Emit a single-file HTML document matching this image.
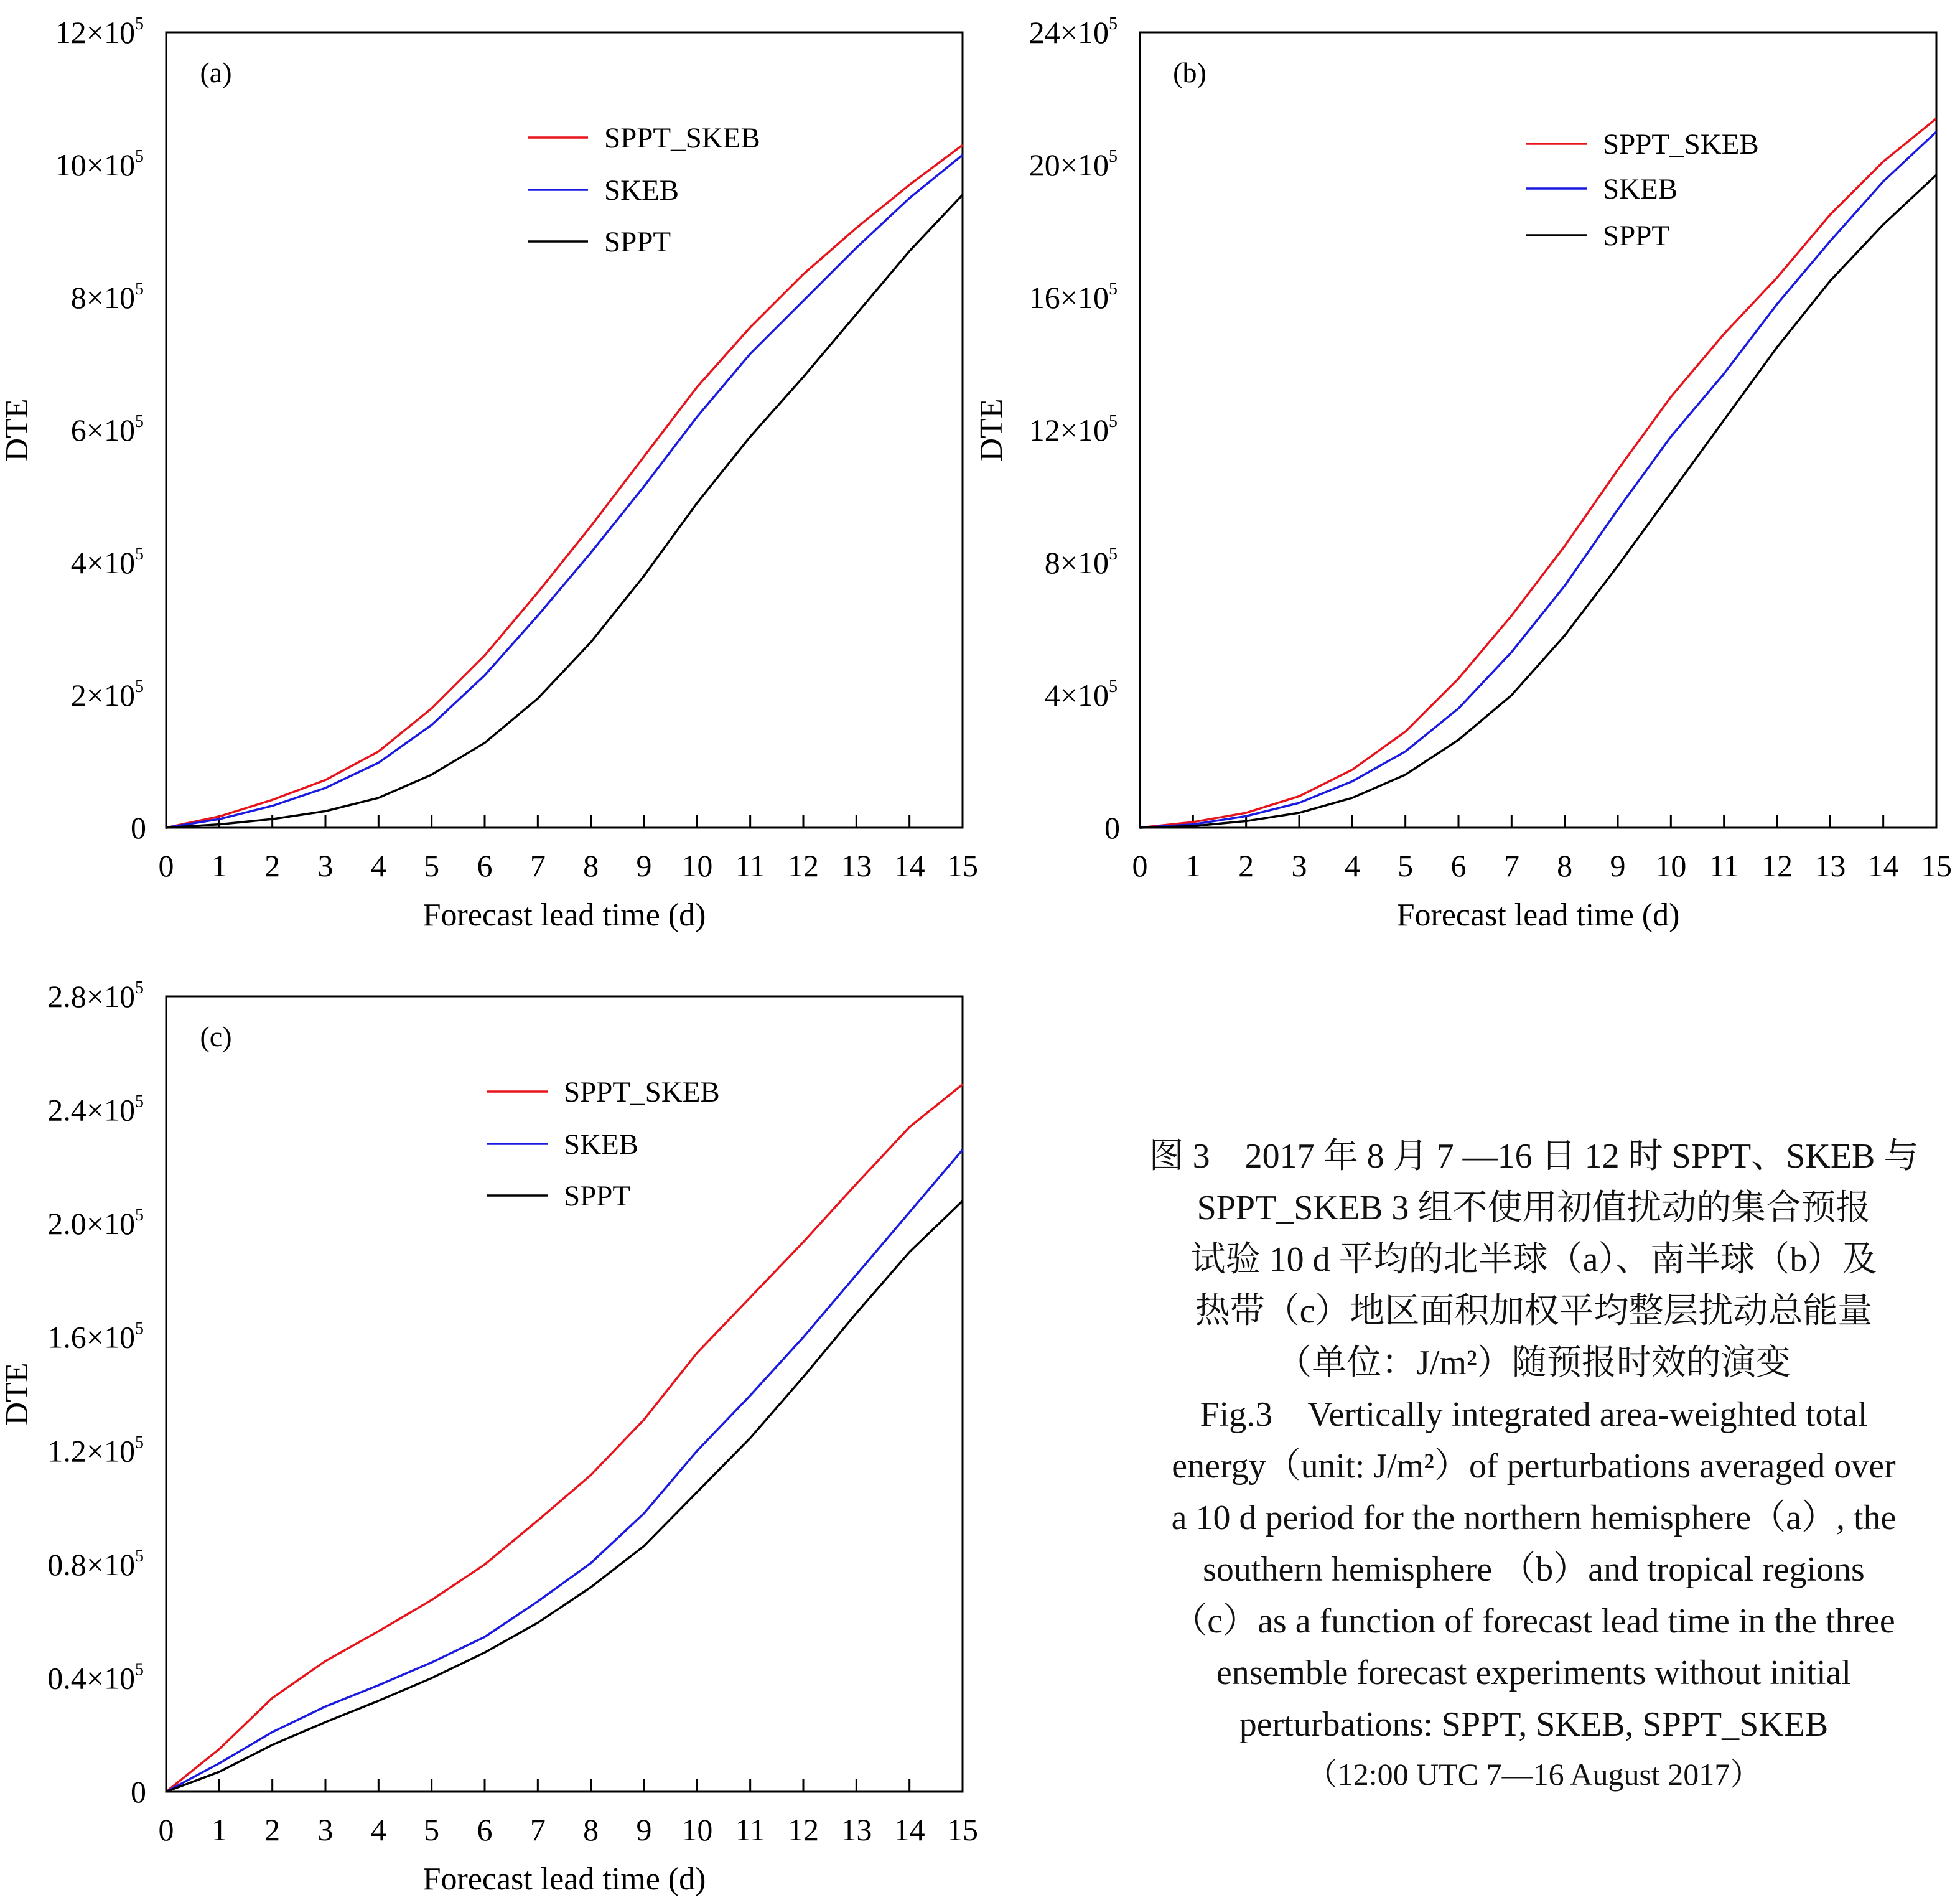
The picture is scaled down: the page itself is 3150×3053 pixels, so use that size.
<!DOCTYPE html>
<html><head><meta charset="utf-8"><style>
body{margin:0;background:#fff}
svg{display:block;font-family:"Liberation Serif","Noto Serif CJK SC",serif}
</style></head><body>
<svg id="fig" width="3150" height="3053" viewBox="0 0 3150 3053" xmlns="http://www.w3.org/2000/svg">
<rect width="3150" height="3053" fill="#fff"/>
<g id="caption" font-size="56" text-anchor="middle" fill="#111">
<text x="2465" y="1876">图 3　2017 年 8 月 7 —16 日 12 时 SPPT、SKEB 与</text>
<text x="2465" y="1959">SPPT_SKEB 3 组不使用初值扰动的集合预报</text>
<text x="2465" y="2042">试验 10 d 平均的北半球（a）、南半球（b）及</text>
<text x="2465" y="2125">热带（c）地区面积加权平均整层扰动总能量</text>
<text x="2465" y="2208">（单位：J/m²）随预报时效的演变</text>
<text x="2465" y="2291">Fig.3　Vertically integrated area-weighted total</text>
<text x="2465" y="2374">energy（unit: J/m²）of perturbations averaged over</text>
<text x="2465" y="2457">a 10 d period for the northern hemisphere（a）, the</text>
<text x="2465" y="2540">southern hemisphere （b）and tropical regions</text>
<text x="2465" y="2623">（c）as a function of forecast lead time in the three</text>
<text x="2465" y="2706">ensemble forecast experiments without initial</text>
<text x="2465" y="2789">perturbations: SPPT, SKEB, SPPT_SKEB</text>
<text x="2465" y="2868" font-size="50">（12:00 UTC 7—16 August 2017）</text>
</g>
</svg>
<script>
const days=[0,1,2,3,4,5,6,7,8,9,10,11,12,13,14,15];
const aSpptSkeb=[0,0.17,0.42,0.72,1.15,1.8,2.6,3.55,4.55,5.6,6.65,7.55,8.35,9.05,9.7,10.3];
const aSkeb=[0,0.13,0.33,0.6,0.98,1.55,2.3,3.2,4.15,5.15,6.2,7.15,7.95,8.75,9.5,10.15];
const aSppt=[0,0.05,0.13,0.25,0.45,0.8,1.28,1.95,2.8,3.8,4.9,5.9,6.8,7.75,8.7,9.55];
const bSpptSkeb=[0,0.17,0.45,0.95,1.75,2.9,4.5,6.4,8.5,10.8,13.0,14.9,16.6,18.5,20.1,21.4];
const bSkeb=[0,0.1,0.35,0.75,1.4,2.3,3.6,5.3,7.3,9.6,11.8,13.7,15.8,17.7,19.5,21.0];
const bSppt=[0,0.05,0.2,0.45,0.9,1.6,2.65,4.0,5.8,7.9,10.1,12.3,14.5,16.5,18.2,19.7];
const cSpptSkeb=[0,0.15,0.33,0.46,0.565,0.675,0.8,0.955,1.115,1.31,1.545,1.74,1.935,2.14,2.34,2.49];
const cSkeb=[0,0.1,0.21,0.3,0.375,0.455,0.545,0.67,0.805,0.98,1.2,1.395,1.6,1.82,2.04,2.26];
const cSppt=[0,0.07,0.165,0.245,0.32,0.4,0.49,0.595,0.72,0.865,1.055,1.245,1.46,1.685,1.9,2.08];
const aTicks=["0","2","4","6","8","10","12"];
const bTicks=["0","4","8","12","16","20","24"];
const cTicks=["0","0.4","0.8","1.2","1.6","2.0","2.4","2.8"];
const seriesNames=["SPPT_SKEB","SKEB","SPPT"];
const colors=["#e8141c","#1a1ae0","#000"];

const NS="http://www.w3.org/2000/svg";
const svg=document.getElementById('fig');
function mk(tag,attrs,parent){const e=document.createElementNS(NS,tag);for(const k in attrs)e.setAttribute(k,attrs[k]);(parent||svg).appendChild(e);return e;}

function panel(id,L,R,T,B,ymax,ticks,series,label,legX,legY,dteX){
  const g=mk('g',{});
  
  
  const xs=d=>L+(R-L)*d/15, ys=v=>B-(B-T)*v/ymax;
  const frame=mk('rect',{x:L,y:T,width:R-L,height:B-T,fill:'none',stroke:'#000','stroke-width':3},g);
  
  
  days.forEach(d=>{
    const t=mk('line',{x1:xs(d),x2:xs(d),y1:B,y2:B-20,stroke:'#000','stroke-width':3},g);
    
    
    const tx=mk('text',{x:xs(d),y:B+78,'font-size':50,'text-anchor':'middle'},g);
    tx.textContent=d;
    
    
  });
  ticks.forEach((tl,i)=>{
    const v=ymax*i/(ticks.length-1);
    const tx=mk('text',{x:L-36,y:ys(v)+17,'font-size':50,'text-anchor':'end'},g);
    
    
    if(tl==="0"){tx.setAttribute('x',L-32);tx.textContent="0";}
    else{tx.textContent=tl+"×10";const s=mk('tspan',{'font-size':28,dy:-22},tx);s.textContent="5";}
  });
  const xt=mk('text',{x:(L+R)/2,y:B+157,'font-size':52,'text-anchor':'middle'},g);
  xt.textContent="Forecast lead time (d)";
  
  
  const yt=mk('text',{x:dteX,y:(T+B)/2,'font-size':52,'text-anchor':'middle',transform:`rotate(-90 ${dteX} ${(T+B)/2})`},g);
  yt.textContent="DTE";
  
  
  const pl=mk('text',{x:L+80,y:T+80,'font-size':46,'text-anchor':'middle'},g);
  pl.textContent=label;
  
  
  series.forEach((arr,i)=>{
    const p=mk('polyline',{points:arr.map((v,j)=>xs(days[j])+','+ys(v)).join(' '),fill:'none',stroke:colors[i],'stroke-width':3.5,'stroke-linejoin':'round'},g);
    
    
    const ly=legY[i];
    const ll=mk('line',{x1:legX,x2:legX+97,y1:ly,y2:ly,stroke:colors[i],'stroke-width':3.5},g);
    
    
    const lt=mk('text',{x:legX+123,y:ly+16,'font-size':47},g);
    lt.textContent=seriesNames[i];
    
    
  });
}
panel('a',267,1547,52,1330,12,aTicks,[aSpptSkeb,aSkeb,aSppt],'(a)',848,[221,305,388],44);
panel('b',1832,3112,52,1330,24,bTicks,[bSpptSkeb,bSkeb,bSppt],'(b)',2453,[231,303,378],1610);
panel('c',267,1547,1601,2879,2.8,cTicks,[cSpptSkeb,cSkeb,cSppt],'(c)',783,[1754,1838,1921],44);
</script>
</body></html>
